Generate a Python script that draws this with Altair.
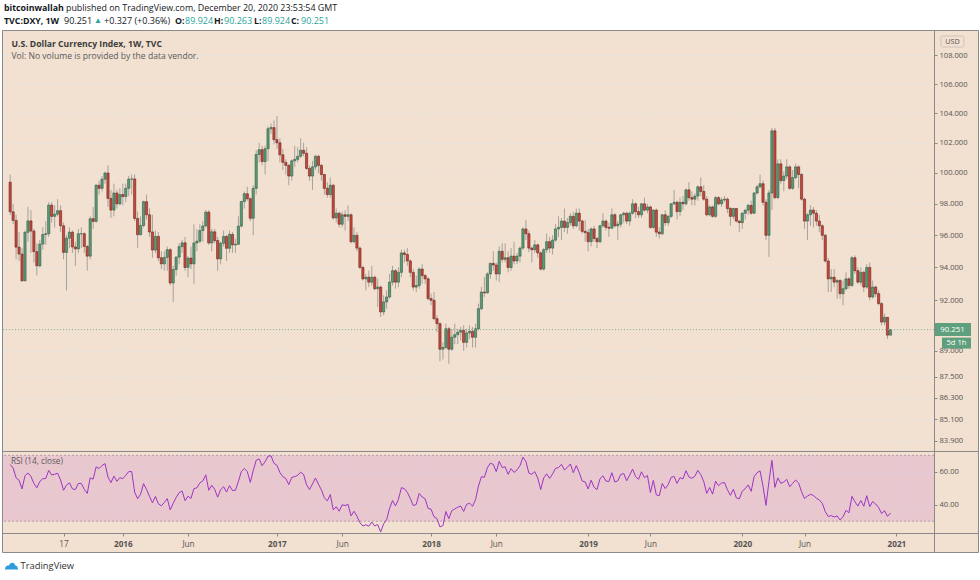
import altair as alt
import pandas as pd

# ---------------- data (weekly DXY candles, week of 13 Apr 2015 .. 21 Dec 2020) ----------------
first_open = 99.40

closes_2015 = [97.49, 96.94, 95.26, 94.83, 93.18, 96.19, 96.91, 96.27, 94.98, 94.10,
               95.45, 96.05, 96.10, 97.92, 97.20, 97.34, 97.56, 96.60, 94.93, 95.82,
               96.20, 95.27, 95.15, 96.10, 96.10, 95.30, 94.70, 97.05, 96.88, 99.20,
               99.00, 99.60, 100.00, 98.35, 97.60, 98.70, 98.00, 98.60]
highs_2015 = [99.90, 98.00, 97.30, 96.20, 95.20, 96.30, 97.80, 97.60, 96.40, 95.50,
              95.70, 96.50, 96.90, 98.10, 98.10, 97.90, 98.30, 97.90, 96.80, 96.00,
              96.50, 96.30, 95.60, 96.40, 96.50, 96.20, 95.40, 97.20, 97.80, 99.30,
              99.50, 99.80, 100.10, 100.50, 98.90, 99.30, 98.90, 99.00]
lows_2015 = [97.30, 96.70, 94.50, 94.40, 93.13, 93.20, 95.60, 94.90, 94.30, 93.50,
             94.00, 95.10, 95.40, 95.90, 96.80, 96.50, 97.20, 96.20, 94.50, 92.60,
             95.20, 94.90, 94.10, 94.90, 95.20, 94.90, 93.80, 94.50, 96.40, 96.80,
             98.60, 98.80, 99.30, 97.80, 97.10, 97.20, 97.70, 97.90]

closes_2016 = [98.47, 99.00, 99.60, 99.61, 97.07, 96.04, 96.62, 98.14, 97.30, 96.21,
               95.08, 95.93, 94.60, 94.22, 94.62, 95.10, 93.05, 93.87, 94.64, 95.29,
               95.53, 94.00, 94.58, 94.22, 95.52, 95.63, 96.30, 96.59, 97.47, 95.52,
               96.22, 95.67, 94.53, 95.50, 95.93, 95.19, 96.06, 95.40, 95.44, 96.58,
               98.15, 98.65, 98.33, 97.08, 99.00, 101.22, 101.54, 100.75, 101.60, 102.94,
               103.02, 102.21]
highs_2016 = [99.30, 99.30, 99.80, 99.90, 99.90, 97.50, 97.20, 98.20, 98.60, 97.70,
              97.30, 96.30, 96.20, 95.00, 95.00, 95.30, 95.20, 94.10, 94.70, 95.50,
              95.70, 95.90, 94.70, 95.30, 96.70, 96.40, 96.70, 96.90, 97.60, 97.60,
              96.40, 96.40, 95.90, 95.60, 96.30, 96.00, 96.30, 96.20, 95.80, 97.20,
              98.20, 98.80, 99.10, 98.40, 99.20, 101.50, 102.00, 101.80, 101.80, 103.10,
              103.30, 103.50]
lows_2016 = [97.90, 98.10, 98.50, 98.60, 96.90, 95.20, 96.00, 96.50, 97.00, 95.90,
             94.60, 94.90, 94.40, 93.90, 93.80, 93.80, 92.90, 91.90, 93.50, 94.20,
             94.90, 93.80, 93.40, 93.90, 93.00, 95.00, 95.50, 95.60, 96.50, 95.40,
             95.00, 95.50, 93.80, 94.20, 95.30, 94.40, 94.90, 94.90, 94.90, 95.40,
             96.50, 97.70, 98.20, 96.90, 96.00, 98.60, 100.70, 100.50, 99.90, 100.80,
             102.60, 101.90]

closes_2017 = [102.00, 101.20, 100.70, 100.50, 99.80, 100.80, 100.90, 101.10, 101.50, 101.30,
               100.30, 99.80, 100.40, 101.10, 100.50, 99.90, 99.00, 98.60, 99.20, 97.10,
               97.40, 96.70, 97.30, 97.20, 97.30, 95.60, 96.00, 95.20, 94.00, 93.30,
               93.40, 93.10, 93.40, 92.70, 92.80, 91.30, 91.90, 92.20, 93.10, 93.80,
               93.10, 93.70, 94.90, 94.80, 94.40, 93.70, 92.80, 92.90, 93.90, 93.50,
               93.30, 92.10]
highs_2017 = [103.80, 102.30, 101.60, 100.90, 100.60, 100.90, 101.80, 101.70, 102.30, 102.00,
              101.70, 100.50, 100.80, 101.20, 101.20, 100.60, 99.95, 99.40, 99.70, 99.30,
              97.70, 97.50, 97.50, 97.60, 97.90, 97.40, 96.50, 96.20, 95.30, 94.10,
              93.60, 93.80, 94.10, 93.50, 93.30, 92.90, 92.30, 92.60, 93.60, 94.10,
              93.90, 94.00, 95.10, 95.10, 95.20, 94.50, 93.90, 93.50, 94.00, 94.20,
              93.60, 93.40]
lows_2017 = [101.60, 100.70, 100.20, 99.90, 99.20, 99.50, 100.40, 100.70, 101.00, 101.10,
             100.20, 99.50, 98.90, 100.20, 100.00, 99.50, 98.60, 98.40, 98.40, 97.00,
             96.80, 96.50, 96.50, 96.30, 96.90, 95.50, 95.50, 95.00, 93.90, 93.20,
             92.60, 92.80, 92.90, 92.60, 91.60, 91.00, 91.10, 91.50, 92.10, 92.90,
             92.70, 92.80, 93.40, 94.30, 94.10, 93.40, 92.60, 92.50, 92.70, 93.00,
             93.00, 92.00]

closes_2018 = [92.00, 90.90, 90.60, 89.10, 89.20, 90.30, 89.10, 89.80, 89.95, 90.10,
               90.20, 89.50, 90.05, 90.15, 89.80, 90.30, 91.50, 92.50, 92.45, 93.60,
               94.25, 94.15, 93.60, 95.00, 94.50, 94.60, 94.00, 94.70, 94.40, 94.70,
               95.20, 96.40, 96.10, 95.20, 95.10, 95.40, 94.90, 93.90, 95.10, 95.60,
               95.20, 95.70, 96.40, 96.50, 96.90, 96.50, 96.80, 97.20, 96.60, 97.40,
               96.90, 96.25, 96.17]
highs_2018 = [92.40, 92.50, 91.10, 90.70, 89.50, 90.60, 90.40, 90.30, 90.60, 90.30,
              90.40, 90.50, 90.30, 90.50, 90.40, 90.60, 91.80, 92.80, 93.40, 93.70,
              94.30, 95.00, 94.30, 95.30, 95.50, 95.50, 95.00, 95.20, 95.60, 94.90,
              95.30, 96.50, 96.98, 96.30, 95.30, 95.70, 95.50, 95.00, 95.20, 96.10,
              95.90, 96.00, 96.70, 97.20, 97.10, 97.70, 97.10, 97.40, 97.50, 97.70,
              97.70, 97.00, 96.95]
lows_2018 = [91.70, 90.80, 90.10, 88.40, 88.50, 89.10, 88.25, 89.00, 89.40, 89.40,
             89.60, 89.00, 89.20, 89.70, 89.20, 89.20, 90.20, 91.40, 92.20, 92.40,
             93.30, 93.80, 93.20, 93.10, 94.30, 94.30, 93.70, 93.80, 94.20, 94.20,
             94.30, 95.10, 95.70, 94.95, 94.30, 94.90, 94.60, 93.80, 93.80, 94.90,
             94.90, 94.80, 95.60, 95.90, 95.70, 96.20, 96.10, 96.60, 96.40, 96.50,
             96.30, 96.10, 95.60]

closes_2019 = [95.60, 96.40, 95.80, 95.60, 96.60, 96.90, 96.50, 96.45, 97.30, 96.60,
               96.70, 97.30, 97.40, 96.90, 97.40, 98.00, 97.50, 97.30, 98.00, 97.60,
               97.80, 96.50, 97.60, 96.20, 96.10, 97.30, 96.80, 97.20, 98.00, 98.10,
               97.50, 98.10, 98.00, 98.90, 98.40, 98.30, 98.50, 99.10, 98.80, 98.30,
               97.30, 97.80, 97.20, 98.40, 98.00, 98.25, 98.30, 97.70, 97.20, 97.70,
               96.90, 96.80]
highs_2019 = [96.40, 96.50, 96.60, 95.90, 96.65, 97.40, 97.00, 96.80, 97.70, 97.40,
              96.90, 97.35, 97.50, 97.50, 97.50, 98.30, 98.10, 97.80, 98.05, 98.40,
              98.00, 97.90, 97.65, 97.70, 96.50, 97.35, 97.60, 97.30, 98.05, 98.90,
              98.20, 98.40, 98.50, 99.00, 99.40, 98.80, 98.70, 99.20, 99.70, 99.20,
              98.50, 97.90, 97.90, 98.50, 98.50, 98.40, 98.50, 98.40, 97.80, 97.75,
              97.75, 96.95]
lows_2019 = [95.00, 95.30, 95.60, 95.20, 95.50, 96.50, 96.30, 95.90, 96.40, 96.50,
             95.70, 96.50, 96.80, 96.70, 96.60, 97.30, 97.10, 97.10, 97.10, 97.50,
             97.40, 96.40, 96.40, 95.90, 95.80, 96.00, 96.60, 96.60, 97.10, 97.90,
             97.00, 97.20, 97.60, 97.90, 98.20, 97.90, 97.90, 98.20, 98.50, 98.20,
             97.20, 97.20, 97.10, 97.10, 97.90, 97.80, 98.10, 97.40, 96.60, 97.00,
             96.80, 96.20]

closes_2020 = [97.40, 97.60, 97.90, 97.40, 98.70, 99.10, 99.30, 98.10, 96.00, 98.70,
               102.80, 98.40, 100.60, 99.50, 99.80, 100.40, 99.00, 99.70, 100.40, 99.90,
               98.30, 96.90, 97.30, 97.60, 97.40, 96.90, 96.60, 96.00, 94.40, 93.30,
               93.40, 93.10, 93.20, 92.40, 92.70, 93.30, 92.90, 94.60, 93.80, 93.10,
               93.70, 92.80, 94.00, 92.20, 92.80, 92.40, 91.80, 90.70, 90.98, 89.924,
               90.251]
highs_2020 = [97.45, 97.65, 98.00, 98.20, 98.75, 99.20, 99.90, 99.50, 98.30, 98.90,
              103.00, 102.99, 100.90, 100.90, 100.10, 100.90, 100.50, 100.20, 100.60, 100.50,
              100.00, 98.40, 97.40, 97.90, 97.80, 97.60, 97.30, 96.70, 96.10, 94.60,
              93.90, 93.90, 93.30, 93.30, 93.20, 93.70, 93.40, 94.70, 94.75, 94.00,
              94.00, 93.80, 94.20, 94.30, 93.20, 92.90, 92.60, 91.90, 91.20, 91.00,
              90.263]
lows_2020 = [96.40, 97.00, 97.30, 97.30, 97.35, 98.60, 99.00, 97.90, 95.70, 94.65,
             97.60, 98.30, 98.30, 99.30, 98.80, 99.60, 98.90, 98.90, 99.60, 99.00,
             98.20, 96.40, 95.70, 96.60, 96.50, 96.60, 96.20, 95.70, 94.30, 92.50,
             92.50, 92.80, 92.10, 92.10, 91.70, 92.60, 92.70, 92.80, 93.60, 93.00,
             92.90, 92.50, 92.70, 92.00, 92.10, 92.20, 91.70, 90.50, 90.50, 89.70,
             89.924]

# RSI(14) state carried in from the weeks before the first visible candle
rsi_seed_gain = 0.88
rsi_seed_loss = 0.34

price_ticks = [108, 106, 104, 102, 100, 98, 96, 94, 92, 89, 87.5, 86.3, 85.1, 83.9]
rsi_ticks = [40, 60]
rsi_band = [30, 70]
time_tick_index = [18, 38, 60, 90, 112, 142, 164, 195, 216, 247, 268, 299]
time_tick_text = ["17", "2016", "Jun", "2017", "Jun", "2018", "Jun", "2019", "Jun", "2020", "Jun", "2021"]

# ---------------- table ----------------
closes = closes_2015 + closes_2016 + closes_2017 + closes_2018 + closes_2019 + closes_2020
highs = highs_2015 + highs_2016 + highs_2017 + highs_2018 + highs_2019 + highs_2020
lows = lows_2015 + lows_2016 + lows_2017 + lows_2018 + lows_2019 + lows_2020
opens = [first_open] + closes[:-1]

g, l = rsi_seed_gain, rsi_seed_loss
rsi = []
for o, c in zip(opens, closes):
    d = c - o
    g = (13 * g + max(d, 0.0)) / 14
    l = (13 * l + max(-d, 0.0)) / 14
    rsi.append(100 * g / (g + l))

df = pd.DataFrame({"i": list(range(len(closes))), "open": opens, "high": highs,
                   "low": lows, "close": closes, "rsi": rsi})
df["high"] = df[["high", "open", "close"]].max(axis=1)
df["low"] = df[["low", "open", "close"]].min(axis=1)
last = df.tail(1)

# ---------------- style ----------------
FONT = "Open Sans"
PEACH = "#f2e0d0"
GRID = "#ebe2da"
FRAME = "#8c8a88"
TXT = "#131722"
AX = "#555555"
TEAL = "#26a69a"
UP, UP_S = "#5b9c78", "#2f5c45"
DN, DN_S = "#c9493c", "#6a241c"
WICK = "#9a9694"
PGREEN = "#5e9f7d"
PDOT = "#74b393"
PURPLE = "#9c35c4"

W, H = 931, 502       # plot area: page x 3..934, y 31..533
MAIN_H = 420          # price pane: page y 31..451


def px(x):
    return x - 3


def py(y):
    return y - 31


label_expr = "".join(f"datum.value == {v} ? '{t}' : " for v, t in zip(time_tick_index, time_tick_text)) + "''"
year_ticks = [v for v, t in zip(time_tick_index, time_tick_text) if len(t) == 4]

xaxis = alt.Axis(values=time_tick_index, labelExpr=label_expr, title=None, domain=False,
                 tickSize=3, tickColor=FRAME, labelColor=AX, labelFont=FONT, labelFontSize=8.2,
                 labelPadding=4, grid=True, gridColor=GRID, labelOverlap=False, labelFlush=False,
                 labelFontWeight={"condition": {"test": f"indexof({year_ticks}, datum.value) >= 0",
                                                "value": "bold"}, "value": "normal"})
xscale = alt.Scale(domain=[-0.734, 310.0], nice=False, zero=False)
X = alt.X("i:Q", scale=xscale, axis=xaxis)

ymain_scale = alt.Scale(type="log", domain=[83.352, 109.747], range=[MAIN_H, 0], nice=False, zero=False)
ymain_axis = alt.Axis(orient="right", values=price_ticks, format=".3f", title=None, domain=False,
                      tickSize=3, tickColor=FRAME, labelColor=AX, labelFont=FONT, labelFontSize=7.6,
                      labelPadding=2, grid=True, gridColor=GRID, labelOverlap=False, labelFlush=False)

yrsi_scale = alt.Scale(domain=[22.85, 72.6], range=[H, MAIN_H], nice=False, zero=False)
yrsi_axis = alt.Axis(orient="right", values=rsi_ticks, format=".2f", title=None, domain=False,
                     tickSize=3, tickColor=FRAME, labelColor=AX, labelFont=FONT, labelFontSize=7.6,
                     labelPadding=2, grid=True, gridColor=GRID, labelOverlap=False, labelFlush=False)


def YM(field):
    return alt.Y(field, scale=ymain_scale, axis=ymain_axis)


def YR(field):
    return alt.Y(field, scale=yrsi_scale, axis=yrsi_axis)


up_test = "datum.close >= datum.open"

wicks = alt.Chart(df).mark_rule(color=WICK, strokeWidth=1, opacity=0.85).encode(
    x=X, y=YM("low:Q"), y2="high:Q")
bodies = alt.Chart(df).mark_bar(size=2.2, strokeWidth=0.6).encode(
    x=X, y=YM("open:Q"), y2="close:Q",
    color=alt.condition(up_test, alt.value(UP), alt.value(DN)),
    stroke=alt.condition(up_test, alt.value(UP_S), alt.value(DN_S)))
price_line = alt.Chart(last).mark_rule(color=PDOT, strokeDash=[1, 2], strokeWidth=1).encode(
    y=YM("close:Q"))
price_box = alt.Chart(last).mark_rect(color=PGREEN, yOffset=-6.5, y2Offset=6.5).encode(
    x=alt.value(px(934)), x2=alt.value(px(971)), y=YM("close:Q"), y2="close:Q")
price_txt = alt.Chart(last).mark_text(color="white", font=FONT, fontSize=7.8, align="center",
                                      baseline="middle").encode(
    x=alt.value(px(952.5)), y=YM("close:Q"), text=alt.Text("close:Q", format=".3f"))
cd_box = alt.Chart(last).mark_rect(color=PGREEN, yOffset=8, y2Offset=19).encode(
    x=alt.value(px(942)), x2=alt.value(px(971)), y=YM("close:Q"), y2="close:Q")
cd_txt = alt.Chart(last).mark_text(color="white", font=FONT, fontSize=7.6, align="center",
                                   baseline="middle", yOffset=13.5).encode(
    x=alt.value(px(956.5)), y=YM("close:Q"), text=alt.value("5d 1h"))

main = alt.layer(wicks, bodies, price_line, price_box, price_txt, cd_box, cd_txt)

band_df = pd.DataFrame({"lo": [rsi_band[0]], "hi": [rsi_band[1]]})
lines_df = pd.DataFrame({"v": rsi_band})
band = alt.Chart(band_df).mark_rect(color="#c86cc8", opacity=0.22).encode(
    y=YR("hi:Q"), y2="lo:Q")
band_lines = alt.Chart(lines_df).mark_rule(color="#b89aae", strokeDash=[2, 2], strokeWidth=1).encode(
    y=YR("v:Q"))
rsi_line = alt.Chart(df).mark_line(color=PURPLE, strokeWidth=1).encode(x=X, y=YR("rsi:Q"))
rsi_pane = alt.layer(band, band_lines, rsi_line)

# ---------------- decorations (page furniture) ----------------
one = pd.DataFrame({"a": [0]})


def rect(x0, y0, x1, y1, **kw):
    return alt.Chart(one).mark_rect(**kw).encode(
        x=alt.value(px(x0)), x2=alt.value(px(x1)), y=alt.value(py(y0)), y2=alt.value(py(y1)))


def hline(y, x0, x1, color=FRAME):
    return alt.Chart(one).mark_rule(color=color, strokeWidth=1).encode(
        x=alt.value(px(x0)), x2=alt.value(px(x1)), y=alt.value(py(y)))


def vline(x, y0, y1, color=FRAME):
    return alt.Chart(one).mark_rule(color=color, strokeWidth=1).encode(
        x=alt.value(px(x)), y=alt.value(py(y0)), y2=alt.value(py(y1)))


def text(s, x, y, size=9.0, color=TXT, weight="normal", align="left"):
    return alt.Chart(one).mark_text(text=s, font=FONT, fontSize=size, color=color, fontWeight=weight,
                                    align=align, baseline="middle").encode(
        x=alt.value(px(x)), y=alt.value(py(y)))


decor = [
    rect(0, 0, 980, 30.5, color="white"),
    rect(0, 552.5, 980, 580, color="white"),
    rect(0, 30, 2.5, 553, color="white"),
    rect(978.5, 30, 980, 553, color="white"),
    hline(30.5, 2.5, 978.5), hline(552.5, 2.5, 978.5),
    hline(451.5, 2.5, 978.5), hline(533.5, 2.5, 978.5),
    vline(2.5, 30.5, 552.5), vline(978.5, 30.5, 552.5), vline(934.5, 30.5, 552.5),
    # header
    text("bitcoinwallah", 4, 7.5, size=8.8, weight="bold"),
    text("published on TradingView.com, December 20, 2020 23:53:54 GMT", 66, 7.5, size=8.9),
    text("TVC:DXY, 1W", 4, 21, size=8.8, weight="bold"),
    text("90.251", 64, 21, size=9.0),
    text("\u25b2", 94, 21, size=8, color=TEAL),
    text("+0.327 (+0.36%)", 104, 21, size=9.0),
    text("O:", 175, 21, size=8.8, weight="bold"), text("89.924", 185, 21, size=9.0, color=TEAL),
    text("H:", 214, 21, size=8.8, weight="bold"), text("90.263", 224, 21, size=9.0, color=TEAL),
    text("L:", 254, 21, size=8.8, weight="bold"), text("89.924", 262, 21, size=9.0, color=TEAL),
    text("C:", 291, 21, size=8.8, weight="bold"), text("90.251", 301, 21, size=9.0, color=TEAL),
    # pane legends
    text("U.S. Dollar Currency Index, 1W, TVC", 11.5, 43.5, size=8.6, color="#3c3c3c", weight="bold"),
    text("Vol: No volume is provided by the data vendor.", 11.5, 55.5, size=8.6, color="#5a5a5a"),
    text("RSI (14, close)", 11, 462, size=8.2, color="#5a5a5a"),
    # USD badge
    rect(941, 36, 964, 47, fill=PEACH, stroke="#cdc3ba", strokeWidth=1, cornerRadius=2),
    text("USD", 952.5, 41.5, size=7.2, color=AX, align="center"),
    # TradingView logo
    alt.Chart(one).mark_point(
        shape="M-1,0.55 C-1,0.05 -0.65,-0.15 -0.38,-0.05 C-0.25,-0.6 0.45,-0.65 0.55,-0.1 "
              "C0.85,-0.1 1,0.25 1,0.55 Z",
        filled=True, color="#2f9bdc", size=170, opacity=1).encode(
        x=alt.value(px(11.5)), y=alt.value(py(566))),
    text("TradingView", 20.5, 566, size=9.4, color="#333333"),
]

chart = alt.layer(main, rsi_pane, *decor).resolve_scale(y="independent").properties(
    width=W, height=H,
    autosize=alt.AutoSizeParams(type="none"),
    padding={"left": 3, "top": 31, "right": 46, "bottom": 47},
    background=PEACH,
).configure_view(stroke=None)

chart.save("out.html", embed_options={"renderer": "svg", "actions": False})
